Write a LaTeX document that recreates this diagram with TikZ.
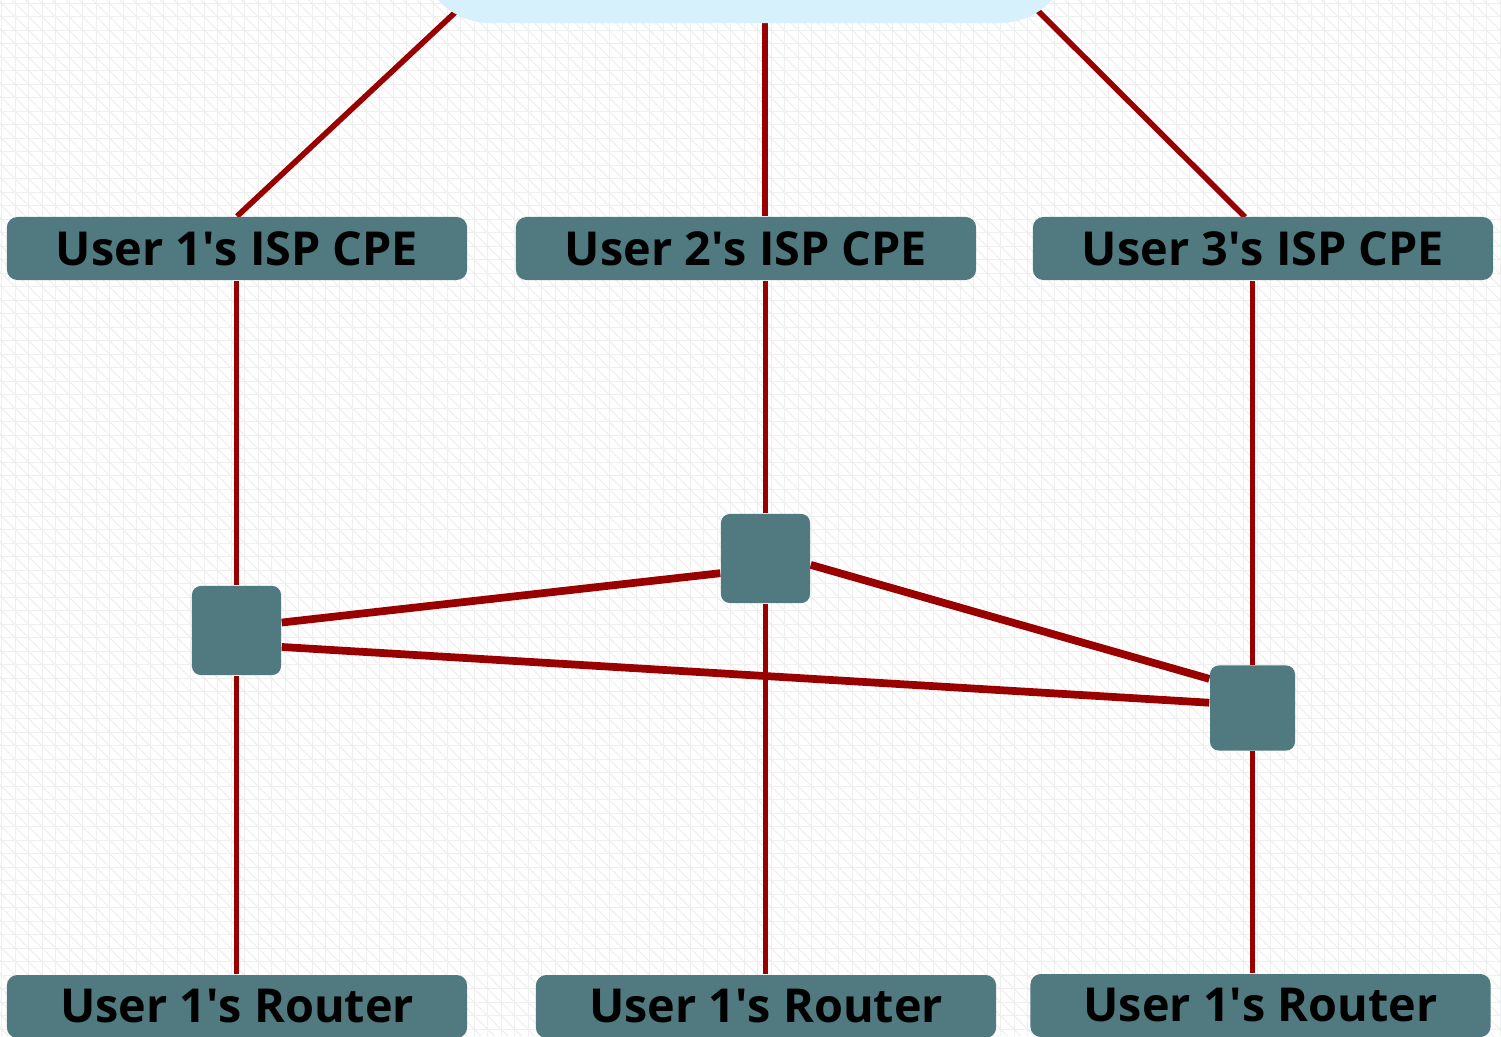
\documentclass[tikz,border=0pt]{standalone}
\usepackage{fontspec}
\setmainfont{Open Sans}
\usepackage{xcolor}

\definecolor{netteal}{HTML}{507A80}
\definecolor{linkred}{HTML}{990000}
\definecolor{cloudblue}{HTML}{D6F0FC}
\definecolor{gridgray}{HTML}{EFEFEF}

\pgfdeclarelayer{bg}
\pgfdeclarelayer{links}
\pgfsetlayers{bg,links,main}

\tikzset{
  devbox/.style={fill=netteal, rounded corners=3pt, minimum width=4.6cm, minimum height=0.63cm,
    inner sep=0pt, text=black, font=\fontsize{13.3pt}{16pt}\selectfont\bfseries},
  switchbox/.style={fill=netteal, rounded corners=2.5pt, minimum size=0.89cm, inner sep=0pt},
  uplink/.style={draw=linkred, line width=1.6pt},
  meshlink/.style={draw=linkred, line width=2.2pt},
  gridline/.style={draw=gridgray, line width=0.3pt},
}
\newcommand{\q}{\textquotesingle}

\begin{document}
\begin{tikzpicture}[x=0.01cm, y=-0.01cm]
\useasboundingbox (0,0) rectangle (1501,1036);

% Background grid
\begin{pgfonlayer}{bg}
\fill[white] (0,0) rectangle (1501,1036);
\foreach \gx in {1.7,15.2,...,1501} \draw[gridline] (\gx,0) -- (\gx,1036);
\foreach \gy in {3.3,16.8,...,1036} \draw[gridline] (0,\gy) -- (1501,\gy);
\foreach \k in {-1041.1,-1027.6,...,1501} \draw[gridline] (\k,0) -- (\k+1036,1036);
\end{pgfonlayer}

% ISP CPEs
\node[devbox] (cpe1) at (237,248.5) {User 1\q s ISP CPE};
\node[devbox] (cpe2) at (746,248.5) {User 2\q s ISP CPE};
\node[devbox] (cpe3) at (1263,248.5) {User 3\q s ISP CPE};

% Routers
\node[devbox] (rt1) at (237,1006.5) {User 1\q s Router};
\node[devbox] (rt2) at (766,1006.5) {User 1\q s Router};
\node[devbox] (rt3) at (1260.5,1005.5) {User 1\q s Router};

% Switches
\node[switchbox] (sw1) at (236.5,630.5) {};
\node[switchbox] (sw2) at (765.5,558.5) {};
\node[switchbox, minimum size=0.85cm] (sw3) at (1252.5,708) {};

% Cloud
\fill[cloudblue, rounded corners=0.7cm] (420,-120) rectangle (1070,23);
\coordinate (cl1) at (462,6);
\coordinate (cl2) at (765,20);
\coordinate (cl3) at (1031,4);
\coordinate (cpe3up) at (1245,217);

% Links
\begin{pgfonlayer}{links}
\draw[uplink] (cl1) -- (cpe1.north);
\draw[uplink] (cl2) -- (cl2 |- cpe2.north);
\draw[uplink] (cl3) -- (cpe3up);
\draw[uplink] (sw1) -- (sw1 |- cpe1.south);
\draw[uplink] (sw1) -- (sw1 |- rt1.north);
\draw[uplink] (sw2) -- (sw2 |- cpe2.south);
\draw[uplink] (sw2) -- (sw2 |- rt2.north);
\draw[uplink] (sw3) -- (sw3 |- cpe3.south);
\draw[uplink] (sw3) -- (sw3 |- rt3.north);
\draw[meshlink] (sw1.10.8) -- (sw2.198);
\draw[meshlink] (sw1.-20.3) -- (sw3.173.3);
\draw[meshlink] (sw2.-8.3) -- (sw3.146.6);
\end{pgfonlayer}

\end{tikzpicture}
\end{document}
